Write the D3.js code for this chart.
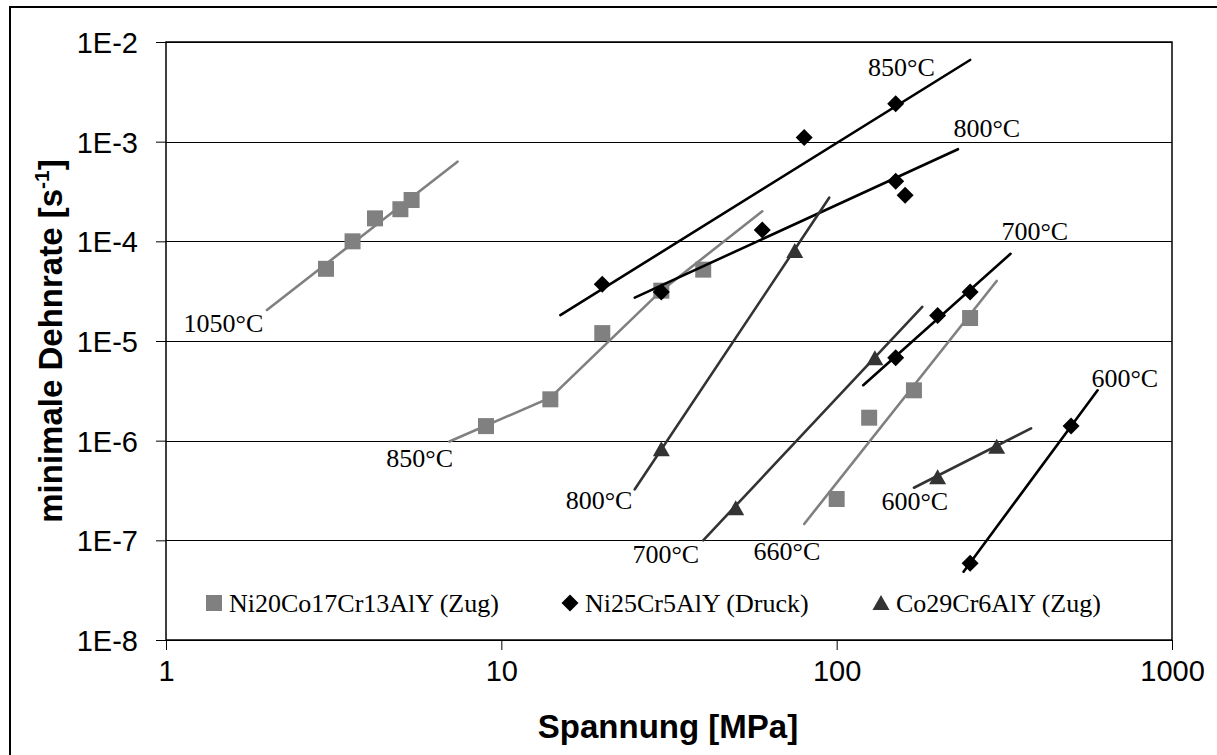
<!DOCTYPE html>
<html>
<head>
<meta charset="utf-8">
<script src="https://cdn.jsdelivr.net/npm/d3@7"></script>
<style>
  body { margin: 0; background: #fff; }
  svg { display: block; }
</style>
</head>
<body>
<svg id="chart" width="1217" height="755"></svg>
<script>
// tick values and labels
const xTicks = [1, 10, 100, 1000];
const yTicks = [1e-8, 1e-7, 1e-6, 1e-5, 1e-4, 1e-3, 1e-2];
const yTickLabels = ['1E-8', '1E-7', '1E-6', '1E-5', '1E-4', '1E-3', '1E-2'];

// measured points [stress MPa, min. strain rate 1/s]
const ni20Points = [
    [3, 5.3e-5], [3.6, 1.0e-4], [4.2, 1.7e-4], [5, 2.1e-4], [5.4, 2.6e-4],
    [9, 1.4e-6], [14, 2.6e-6], [20, 1.2e-5], [30, 3.2e-5], [40, 5.2e-5],
    [100, 2.6e-7], [125, 1.7e-6], [170, 3.2e-6], [250, 1.7e-5]
];
const ni25Points = [
    [20, 3.7e-5], [80, 1.1e-3], [150, 2.4e-3],
    [30, 3.1e-5], [60, 1.3e-4], [150, 4.0e-4], [160, 2.9e-4],
    [150, 6.8e-6], [200, 1.8e-5], [250, 3.1e-5],
    [250, 5.9e-8], [500, 1.4e-6]
];
const co29Points = [
    [30, 8.2e-7], [75, 8.0e-5],
    [50, 2.1e-7], [130, 6.7e-6],
    [200, 4.3e-7], [300, 8.7e-7]
];

// fit lines
const ni20Fits = [
    [[2, 2.05e-5], [7.4, 6.3e-4]],
    [[7, 9.8e-7], [14, 2.7e-6], [30, 3.2e-5], [60, 2.0e-4]],
    [[80, 1.46e-7], [300, 4.0e-5]]
];
const ni25Fits = [
    [[15, 1.82e-5], [250, 6.6e-3]],
    [[25, 2.72e-5], [230, 8.4e-4]],
    [[120, 3.6e-6], [330, 7.5e-5]],
    [[239, 4.85e-8], [600, 3.2e-6]]
];
const co29Fits = [
    [[25, 3.25e-7], [95, 2.74e-4]],
    [[40, 1.0e-7], [180, 2.2e-5]],
    [[170, 3.37e-7], [380, 1.33e-6]]
];

// temperature labels [text, stress, rate, anchor]
const tempLabels = [
    ['1050°C', 1.95, 1.23e-5, 'end'],
    ['850°C', 7.18, 5.44e-7, 'end'],
    ['660°C', 89.4, 6.35e-8, 'end'],
    ['850°C', 124, 4.56e-3, 'start'],
    ['800°C', 223, 1.11e-3, 'start'],
    ['700°C', 310, 1.03e-4, 'start'],
    ['600°C', 575, 3.46e-6, 'start'],
    ['800°C', 24.6, 2.06e-7, 'end'],
    ['700°C', 38.9, 5.93e-8, 'end'],
    ['600°C', 136, 2.02e-7, 'start']
];

const seriesNames = ['Ni20Co17Cr13AlY (Zug)', 'Ni25Cr5AlY (Druck)', 'Co29Cr6AlY (Zug)'];

const svg = d3.select('#chart');

// outer frame (cropped at right/bottom)
svg.append('rect')
    .attr('x', 10).attr('y', 7)
    .attr('width', 1240).attr('height', 780)
    .attr('fill', 'none')
    .attr('stroke', '#000')
    .attr('stroke-width', 2);

const plotLeft = 166, plotTop = 42, plotRight = 1172, plotBottom = 640;

const x = d3.scaleLog().domain([1, 1000]).range([plotLeft, plotRight]);
const y = d3.scaleLog().domain([1e-8, 1e-2]).range([plotBottom, plotTop]);

// gridlines
svg.append('g')
    .selectAll('line')
    .data(yTicks)
    .enter()
    .append('line')
    .attr('x1', plotLeft).attr('x2', plotRight)
    .attr('y1', d => Math.round(y(d)) + 0.5)
    .attr('y2', d => Math.round(y(d)) + 0.5)
    .attr('stroke', '#000')
    .attr('stroke-width', 1);

// plot frame
svg.append('rect')
    .attr('x', plotLeft).attr('y', plotTop)
    .attr('width', plotRight - plotLeft).attr('height', plotBottom - plotTop)
    .attr('fill', 'none')
    .attr('stroke', '#000')
    .attr('stroke-width', 1.5);

// axes
let xAxis = d3.axisBottom(x).tickValues(xTicks).tickFormat(d3.format('d')).tickSize(10).tickPadding(18);
let yAxis = d3.axisLeft(y).tickValues(yTicks).tickFormat((d, i) => yTickLabels[i]).tickSize(10).tickPadding(18);

let gx = svg.append('g').attr('transform', 'translate(0,' + plotBottom + ')').call(xAxis);
let gy = svg.append('g').attr('transform', 'translate(' + plotLeft + ',0)').call(yAxis);

[gx, gy].forEach(g => {
    g.select('.domain').remove();
    g.selectAll('.tick line').attr('stroke', '#000').attr('stroke-width', 1);
    g.selectAll('.tick text')
        .attr('fill', '#000')
        .style('font-family', '"Liberation Sans", Arial, sans-serif')
        .style('font-size', '29px');
});
gx.selectAll('.tick text').attr('dy', '0.71em').attr('y', 20);
gy.selectAll('.tick text').attr('dy', '0.36em').attr('x', -28);

// axis titles
svg.append('text')
    .attr('x', 668).attr('y', 738)
    .attr('text-anchor', 'middle')
    .style('font-family', '"Liberation Sans", Arial, sans-serif')
    .style('font-weight', 'bold')
    .style('font-size', '33px')
    .text('Spannung [MPa]');

let yTitle = svg.append('text')
    .attr('transform', 'translate(62,341) rotate(-90)')
    .attr('text-anchor', 'middle')
    .style('font-family', '"Liberation Sans", Arial, sans-serif')
    .style('font-weight', 'bold')
    .style('font-size', '33px');
yTitle.append('tspan').text('minimale Dehnrate [s');
yTitle.append('tspan').attr('dy', -13).style('font-size', '21px').text('-1');
yTitle.append('tspan').attr('dy', 13).text(']');

const line = d3.line().x(d => x(d[0])).y(d => y(d[1]));

const colors = ['#808080', '#000000', '#333333'];

const drawFits = (fits, color) => {
    svg.append('g')
        .selectAll('path')
        .data(fits)
        .enter()
        .append('path')
        .attr('d', line)
        .attr('fill', 'none')
        .attr('stroke', color)
        .attr('stroke-width', 2.6)
        .attr('stroke-linecap', 'round');
};

const squarePath = 'M-8,-8L8,-8L8,8L-8,8Z';
const diamondPath = 'M0,-8.5L8.5,0L0,8.5L-8.5,0Z';
const trianglePath = 'M0,-8L8.5,7L-8.5,7Z';

const drawPoints = (points, path, color) => {
    svg.append('g')
        .selectAll('path')
        .data(points)
        .enter()
        .append('path')
        .attr('transform', d => 'translate(' + x(d[0]) + ',' + y(d[1]) + ')')
        .attr('d', path)
        .attr('fill', color);
};

drawPoints(ni20Points, squarePath, colors[0]);
drawFits(ni20Fits, colors[0]);
drawPoints(ni25Points, diamondPath, colors[1]);
drawFits(ni25Fits, colors[1]);
drawPoints(co29Points, trianglePath, colors[2]);
drawFits(co29Fits, colors[2]);

// temperature labels
svg.append('g')
    .selectAll('text')
    .data(tempLabels)
    .enter()
    .append('text')
    .attr('x', d => x(d[1]))
    .attr('y', d => y(d[2]))
    .attr('text-anchor', d => d[3])
    .style('font-family', '"Liberation Serif", "Times New Roman", serif')
    .style('font-size', '26px')
    .attr('fill', '#000')
    .text(d => d[0]);

// legend
const legendX = [214, 570, 881];
const legendPaths = [squarePath, diamondPath, trianglePath];
let legend = svg.append('g')
    .selectAll('g')
    .data(seriesNames)
    .enter()
    .append('g')
    .attr('transform', (d, i) => 'translate(' + legendX[i] + ',603)');

legend.append('path')
    .attr('d', (d, i) => legendPaths[i])
    .attr('fill', (d, i) => colors[i]);

legend.append('text')
    .attr('x', 15)
    .attr('y', 9)
    .style('font-family', '"Liberation Serif", "Times New Roman", serif')
    .style('font-size', '26px')
    .attr('fill', '#000')
    .text(d => d);
</script>
</body>
</html>
